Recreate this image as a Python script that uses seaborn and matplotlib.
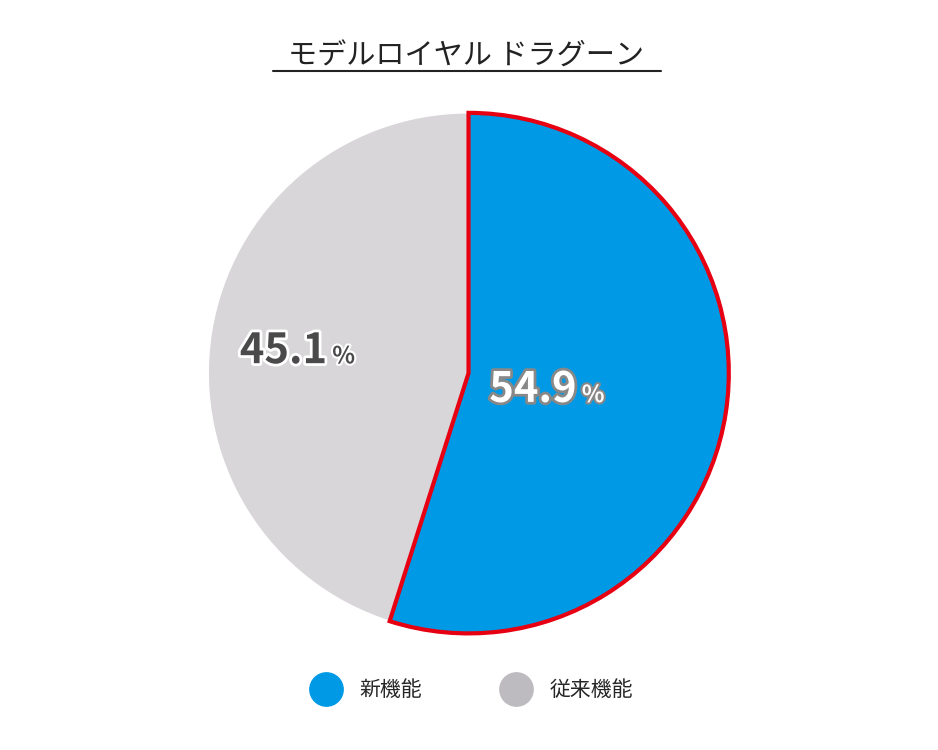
import numpy as np
import seaborn as sns
from matplotlib import pyplot as plt
from matplotlib.lines import Line2D
import matplotlib.patheffects as pe

sns.set_style("white")
plt.rcParams['font.family'] = ['Noto Sans CJK JP', 'DejaVu Sans']

title = "モデルロイヤル ドラグーン"
labels = ["新機能", "従来機能"]
values = [54.9, 45.1]
colors = ["#0099E5", "#D9D6DA"]
legend_colors = ["#0099E5", "#BDBBBF"]

fig = plt.figure(figsize=(9.38, 7.5), dpi=100)
ax = fig.add_axes([0.219, 0.152, 0.561, 0.701])
wedges, _ = ax.pie(values, colors=colors, startangle=90, counterclock=False,
                   radius=1.0)
wedges[0].set_edgecolor("#E60012")
wedges[0].set_linewidth(3)
wedges[0].set_zorder(3)
ax.set_xlim(-1.01, 1.01)
ax.set_ylim(-1.01, 1.01)
ax.set_aspect("equal")

dists = [0.42, 0.55]
txtcol = ["white", "#4A4A4A"]
strokes = ["#888888", "white"]
for w, v, d, tc, sc in zip(wedges, values, dists, txtcol, strokes):
    ang = np.deg2rad((w.theta1 + w.theta2) / 2)
    x, y = d * np.cos(ang), d * np.sin(ang)
    t1 = ax.text(x, y, f"{v:.1f}", ha="right", va="center", fontsize=30,
                 fontweight="bold", color=tc,
                 path_effects=[pe.withStroke(linewidth=4, foreground=sc)])
    ax.text(x + 0.02, y - 0.02, "%", ha="left", va="center", fontsize=17,
            fontweight="bold", color=tc,
            path_effects=[pe.withStroke(linewidth=3, foreground=sc)])

fig.text(0.497, 0.925, title, ha="center", va="center", fontsize=21,
         color="#222222")
fig.add_artist(Line2D([0.291, 0.705], [0.905, 0.905], color="#222222", lw=1.5))

handles = [Line2D([], [], marker="o", linestyle="", markersize=24,
                  markerfacecolor=c, markeredgecolor=c) for c in legend_colors]
fig.legend(handles, labels, loc="center", bbox_to_anchor=(0.5, 0.08), ncol=2,
           frameon=False, fontsize=15, handletextpad=0.6, columnspacing=3.5)

fig.savefig("out.png", dpi=100, facecolor="white")
